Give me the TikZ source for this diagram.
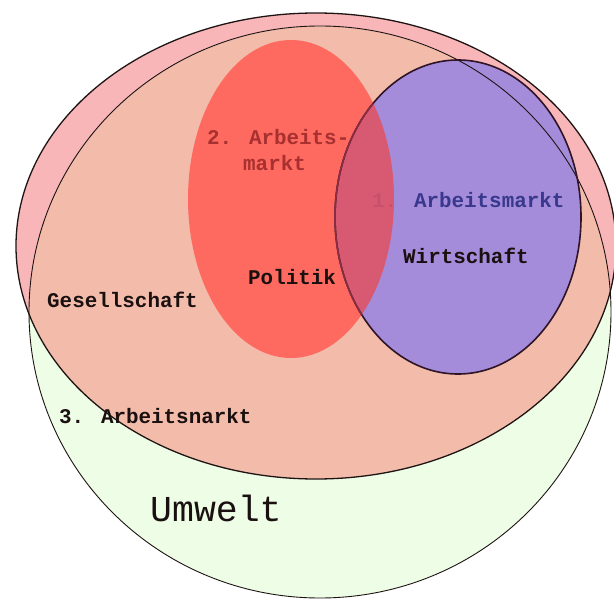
\documentclass[tikz,border=0pt]{standalone}
\usepackage{fontspec}
\newfontfamily\labelfont{Liberation Mono}
\definecolor{umweltgreen}{HTML}{EEFDE5}
\definecolor{gespink}{HTML}{F8B6B8}
\definecolor{gessalmon}{HTML}{F2BBAA}
\definecolor{polred}{HTML}{FE6A5F}
\definecolor{wirtpurple}{HTML}{A58CDA}
\definecolor{overlapcol}{HTML}{D85A72}
\definecolor{lineblack}{HTML}{1E1414}
\definecolor{purpleline}{HTML}{2E1424}
\definecolor{purplelinered}{HTML}{8C2C44}
\definecolor{labeldarkred}{HTML}{A83030}
\definecolor{labelonered}{HTML}{C8506A}
\definecolor{labelnavy}{HTML}{38388C}
\definecolor{labelblack}{HTML}{1A1010}
\begin{document}
\begin{tikzpicture}[x=1pt,y=-1pt,
  lbl/.style={font=\labelfont\bfseries\fontsize{20.9}{25}\selectfont, inner sep=0pt, anchor=base west, text=labelblack},
  biglbl/.style={font=\labelfont\fontsize{36.5}{40}\selectfont, inner sep=0pt, anchor=base west, text=labelblack},
  greenline/.style={draw=lineblack, line width=0.9pt},
  pinkline/.style={draw=lineblack, line width=1.3pt},
  purpleoutline/.style={draw=purpleline, line width=1.6pt}]
\useasboundingbox (0,0) rectangle (614,599);
\fill[white] (0,0) rectangle (614,599);
% Umwelt (green) and Gesellschaft (pink) areas
\fill[umweltgreen] (320,312) ellipse [x radius=291pt, y radius=286pt];
\fill[gespink] (316,246) ellipse [x radius=300pt, y radius=233pt];
\begin{scope}
  \clip (320,312) ellipse [x radius=291pt, y radius=286pt];
  \fill[gessalmon] (316,246) ellipse [x radius=300pt, y radius=233pt];
\end{scope}
% Politik (red) and Wirtschaft (purple)
\fill[polred] (291,199) ellipse [x radius=103pt, y radius=159pt];
\fill[wirtpurple] (458,217) ellipse [x radius=123pt, y radius=157pt];
\begin{scope}
  \clip (291,199) ellipse [x radius=103pt, y radius=159pt];
  \fill[overlapcol] (458,217) ellipse [x radius=123pt, y radius=157pt];
\end{scope}
% outlines
\path[greenline] (320,312) ellipse [x radius=291pt, y radius=286pt];
\path[pinkline] (316,246) ellipse [x radius=300pt, y radius=233pt];
\path[purpleoutline] (458,217) ellipse [x radius=123pt, y radius=157pt];
\begin{scope}
  \clip (291,199) ellipse [x radius=103pt, y radius=159pt];
  \draw[draw=purplelinered, line width=1.6pt] (458,217) ellipse [x radius=123pt, y radius=157pt];
\end{scope}
% labels
\node[lbl, text=labeldarkred] (arbtwoa) at (207,145) {2. Arbeits-};
\node[lbl, text=labeldarkred] (arbtwob) at (243,171) {markt};
\node[lbl] (arbone) at (372,208) {\textcolor{labelonered}{1.} \textcolor{labelnavy}{Arbeitsmarkt}};
\node[lbl] (wirt) at (403,264) {Wirtschaft};
\node[lbl] (pol) at (248,285) {Politik};
\node[lbl] (ges) at (47,308) {Gesellschaft};
\node[lbl] (arbthree) at (59,423) {3. Arbeitsnarkt};
\node[biglbl] (umw) at (150,521) {Umwelt};
\end{tikzpicture}
\end{document}
